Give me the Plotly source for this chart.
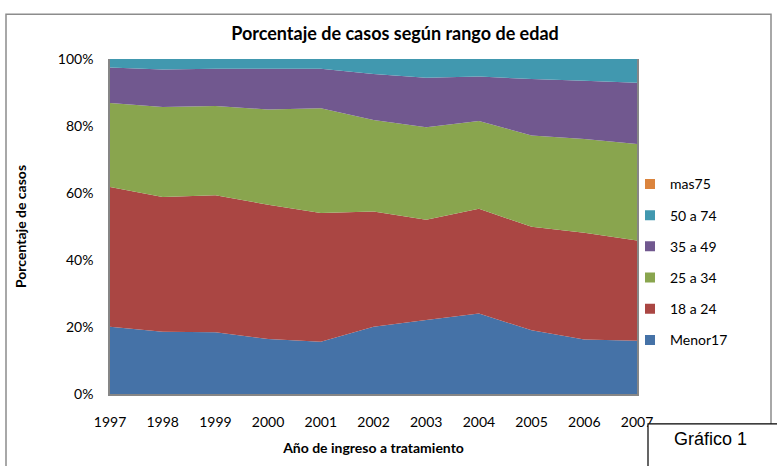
import plotly.graph_objects as go

years = [1997, 1998, 1999, 2000, 2001, 2002, 2003, 2004, 2005, 2006, 2007]
menor17 = [20.1, 18.6, 18.4, 16.4, 15.6, 20.1, 22.1, 24.0, 19.0, 16.3, 15.9]
r18_24 = [41.7, 40.2, 40.9, 40.1, 38.4, 34.4, 29.9, 31.3, 30.9, 31.8, 29.9]
r25_34 = [25.1, 26.9, 26.7, 28.4, 31.3, 27.3, 27.6, 26.2, 27.3, 28.0, 28.8]
r35_49 = [10.6, 11.2, 11.1, 12.2, 11.8, 13.7, 14.8, 13.3, 16.8, 17.4, 18.3]
r50_74 = [2.5, 3.1, 2.9, 2.9, 2.9, 4.5, 5.6, 5.2, 6.0, 6.5, 7.1]
mas75 = [0.0, 0.0, 0.0, 0.0, 0.0, 0.0, 0.0, 0.0, 0.0, 0.0, 0.0]

series = [
    ("Menor17", menor17, "#4572A7"),
    ("18 a 24", r18_24, "#AA4643"),
    ("25 a 34", r25_34, "#89A54E"),
    ("35 a 49", r35_49, "#71588F"),
    ("50 a 74", r50_74, "#4198AF"),
    ("mas75", mas75, "#DB843D"),
]

FONT = "Lato, Open Sans, sans-serif"

fig = go.Figure()
for name, vals, col in series:
    fig.add_trace(go.Scatter(
        x=years, y=vals, name=name, mode="none",
        stackgroup="one", groupnorm="percent",
        fillcolor=col, showlegend=False,
    ))
# legend entries (square swatches), top-to-bottom: mas75 ... Menor17
for name, vals, col in reversed(series):
    fig.add_trace(go.Scatter(
        x=[None], y=[None], name=name, mode="markers",
        marker=dict(symbol="square", size=10, color=col),
        legendgroup=name, showlegend=True,
    ))

W, H = 777, 466
L, R, T, B = 110, 140, 59, 70
pw, ph = W - L - R, H - T - B

def px(x):
    return (x - L) / pw

def py(y):
    return (H - B - y) / ph

fig.update_layout(
    width=W, height=H,
    margin=dict(l=L, r=R, t=T, b=B),
    paper_bgcolor="white", plot_bgcolor="white",
    font=dict(family=FONT, size=14, color="black"),
    title=dict(text="<b>Porcentaje de casos según rango de edad</b>",
               x=px(395), xref="paper", xanchor="center",
               y=1 - 34 / H, yanchor="middle",
               font=dict(size=18, family=FONT)),
    xaxis=dict(range=[1997, 2007], tickmode="array", tickvals=years,
               ticktext=[str(y) for y in years], showgrid=False,
               showline=True, linecolor="#868686", linewidth=1.5, mirror=False,
               ticks="outside", ticklen=14, tickcolor="rgba(0,0,0,0)",
               tickfont=dict(size=14),
               title=dict(text="<b>Año de ingreso a tratamiento</b>", font=dict(size=14), standoff=15)),
    yaxis=dict(range=[0, 100], tickvals=[0, 20, 40, 60, 80, 100],
               ticktext=["0%", "20%", "40%", "60%", "80%", "100%"],
               showgrid=False, showline=True, linecolor="#868686", linewidth=1.5,
               mirror=True, ticks="outside", ticklen=12, tickcolor="rgba(0,0,0,0)",
               tickfont=dict(size=14),
               title=dict(text="<b>Porcentaje de casos</b>", font=dict(size=14), standoff=28)),
    legend=dict(x=px(630), y=py(169), xanchor="left", yanchor="top",
                traceorder="grouped", tracegroupgap=10,
                font=dict(size=14), bgcolor="rgba(0,0,0,0)"),
    showlegend=True,
    shapes=[
        dict(type="rect", xref="paper", yref="paper",
             x0=px(6), x1=px(771), y0=py(470), y1=py(14),
             line=dict(color="#8c8c8c", width=1.5), fillcolor="rgba(0,0,0,0)", layer="below"),
        dict(type="rect", xref="paper", yref="paper",
             x0=px(648), x1=px(790), y0=py(472), y1=py(426),
             line=dict(color="black", width=1.2), fillcolor="white", layer="above"),
    ],
    annotations=[
        dict(text="Gráfico 1", xref="paper", yref="paper", x=px(710), y=py(441),
             xanchor="center", yanchor="middle", showarrow=False,
             font=dict(family="Liberation Sans, Arial, sans-serif", size=18, color="black")),
    ],
)

fig.write_html("out.html", config={"displayModeBar": False},
               post_script="document.body.style.margin='0';")
